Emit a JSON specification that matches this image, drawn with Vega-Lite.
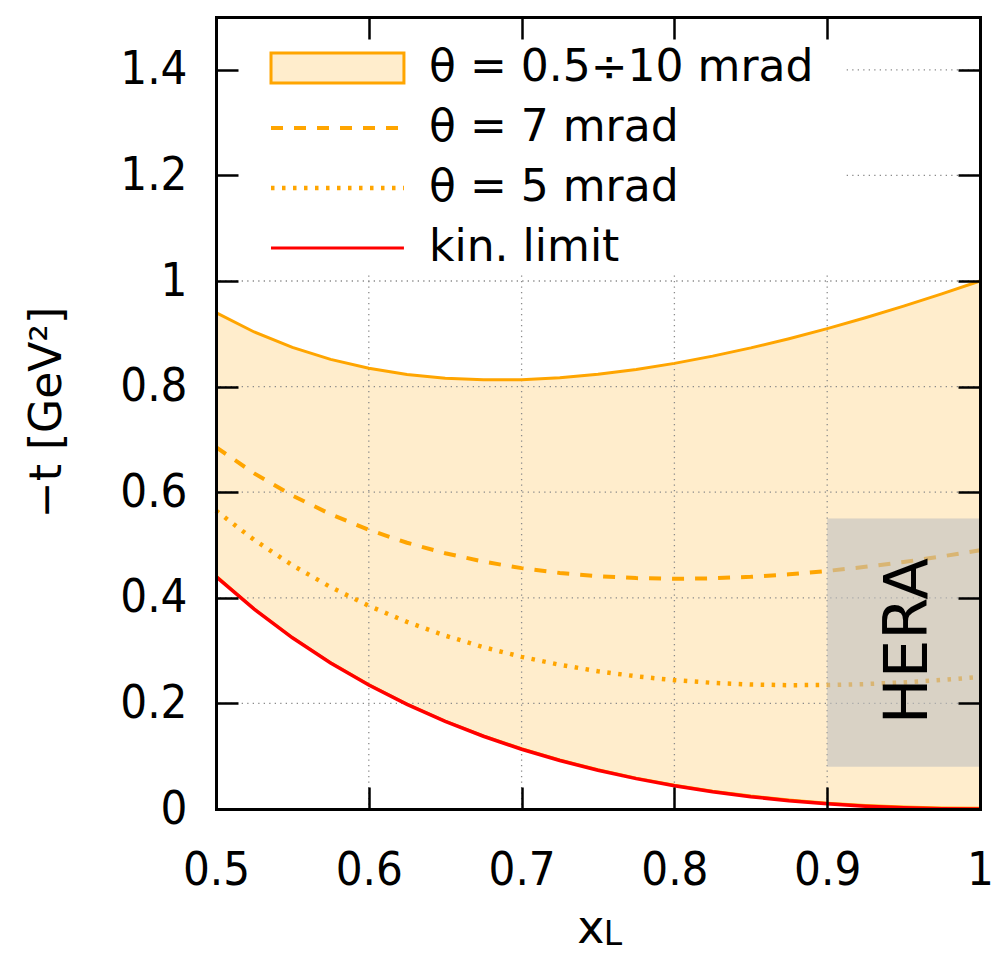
{
  "$schema": "https://vega.github.io/schema/vega-lite/v6.json",
  "width": 764,
  "height": 792,
  "autosize": "none",
  "padding": {"left": 216, "top": 17, "right": 25, "bottom": 144},
  "background": "white",
  "config": {"view": {"stroke": null}, "font": "DejaVu Sans"},
  "datasets": {
    "curves": [
      {"x": 0.5, "lo": 0.4427, "hi": 0.9402, "t7": 0.6852, "t5": 0.5652, "kin": 0.4402},
      {"x": 0.525, "lo": 0.3797, "hi": 0.9034, "t7": 0.6356, "t5": 0.5096, "kin": 0.3784},
      {"x": 0.55, "lo": 0.3255, "hi": 0.8742, "t7": 0.5937, "t5": 0.4617, "kin": 0.3242},
      {"x": 0.575, "lo": 0.278, "hi": 0.8516, "t7": 0.5583, "t5": 0.4203, "kin": 0.2766},
      {"x": 0.6, "lo": 0.2363, "hi": 0.8348, "t7": 0.5288, "t5": 0.3848, "kin": 0.2348},
      {"x": 0.625, "lo": 0.1997, "hi": 0.8231, "t7": 0.5043, "t5": 0.3543, "kin": 0.1981},
      {"x": 0.65, "lo": 0.1675, "hi": 0.8159, "t7": 0.4844, "t5": 0.3284, "kin": 0.1659},
      {"x": 0.675, "lo": 0.1395, "hi": 0.8128, "t7": 0.4685, "t5": 0.3065, "kin": 0.1378},
      {"x": 0.7, "lo": 0.115, "hi": 0.8132, "t7": 0.4562, "t5": 0.2882, "kin": 0.1132},
      {"x": 0.725, "lo": 0.0937, "hi": 0.8168, "t7": 0.4471, "t5": 0.2731, "kin": 0.0918},
      {"x": 0.75, "lo": 0.0752, "hi": 0.8234, "t7": 0.4409, "t5": 0.2609, "kin": 0.0734},
      {"x": 0.775, "lo": 0.0594, "hi": 0.8325, "t7": 0.4373, "t5": 0.2513, "kin": 0.0575},
      {"x": 0.8, "lo": 0.046, "hi": 0.844, "t7": 0.436, "t5": 0.244, "kin": 0.044},
      {"x": 0.825, "lo": 0.0347, "hi": 0.8577, "t7": 0.4369, "t5": 0.2389, "kin": 0.0327},
      {"x": 0.85, "lo": 0.0254, "hi": 0.8733, "t7": 0.4398, "t5": 0.2358, "kin": 0.0233},
      {"x": 0.875, "lo": 0.0179, "hi": 0.8907, "t7": 0.4445, "t5": 0.2345, "kin": 0.0157},
      {"x": 0.9, "lo": 0.012, "hi": 0.9098, "t7": 0.4508, "t5": 0.2348, "kin": 0.0098},
      {"x": 0.925, "lo": 0.0077, "hi": 0.9304, "t7": 0.4586, "t5": 0.2366, "kin": 0.0054},
      {"x": 0.95, "lo": 0.0047, "hi": 0.9523, "t7": 0.4678, "t5": 0.2398, "kin": 0.0023},
      {"x": 0.975, "lo": 0.003, "hi": 0.9756, "t7": 0.4783, "t5": 0.2443, "kin": 0.0006},
      {"x": 1.0, "lo": 0.0025, "hi": 1.0, "t7": 0.49, "t5": 0.25, "kin": 0.0}
    ],
    "gridY": [{"v": 0.2}, {"v": 0.4}, {"v": 0.6}, {"v": 0.8}, {"v": 1.0}, {"v": 1.2}, {"v": 1.4}],
    "gridX": [{"v": 0.6}, {"v": 0.7}, {"v": 0.8}, {"v": 0.9}],
    "keyBox": [{"x1": 0.5, "x2": 0.911, "y1": 1.012, "y2": 1.5}],
    "keySwatch": [{"x1": 0.536, "x2": 0.623, "y1": 1.375, "y2": 1.4318}],
    "keyLines": [
      {"k": "t7", "x1": 0.536, "x2": 0.623, "y": 1.2898},
      {"k": "t5", "x1": 0.536, "x2": 0.623, "y": 1.1761},
      {"k": "kin", "x1": 0.536, "x2": 0.623, "y": 1.0625}
    ],
    "keyText": [
      {"x": 0.6394, "y": 1.4034, "t": "θ = 0.5÷10 mrad"},
      {"x": 0.6394, "y": 1.2898, "t": "θ = 7 mrad"},
      {"x": 0.6394, "y": 1.1761, "t": "θ = 5 mrad"},
      {"x": 0.6394, "y": 1.0625, "t": "kin. limit"}
    ],
    "hera": [{"x1": 0.9, "x2": 1.0, "y1": 0.08, "y2": 0.55, "xc": 0.9535, "yc": 0.318, "t": "HERA"}],
    "xtitle": [
      {"x": 0.7454, "y": -0.2538, "t": "x", "s": "main"},
      {"x": 0.7537, "y": -0.2585, "t": "L", "s": "sub"}
    ]
  },
  "resolve": {"axis": {"x": "independent", "y": "independent"}},
  "layer": [
    {
      "data": {"name": "curves"},
      "mark": {"type": "area", "fill": "#ffedcc", "stroke": null},
      "encoding": {
        "x": {"field": "x", "type": "quantitative", "scale": {"domain": [0.5, 1], "nice": false, "zero": false},
          "axis": {"orient": "bottom", "values": [0.5, 0.6, 0.7, 0.8, 0.9, 1], "format": "~g", "title": null, "grid": false,
            "tickSize": -22, "tickWidth": 2.5, "tickColor": "black", "domainColor": "black", "domainWidth": 3, "domainCap": "square",
            "labelFont": "DejaVu Sans Condensed, DejaVu Sans", "labelFontSize": 47, "labelColor": "black", "labelPadding": 60,
            "labelFlush": false, "labelOverlap": false, "labelBound": false, "zindex": 1}},
        "y": {"field": "lo", "type": "quantitative", "scale": {"domain": [0, 1.5], "nice": false, "zero": false},
          "axis": {"orient": "left", "values": [0, 0.2, 0.4, 0.6, 0.8, 1, 1.2, 1.4], "format": "~g", "grid": false,
            "title": "−t [GeV²]", "titleFont": "DejaVu Sans", "titleFontSize": 44, "titleFontWeight": "normal", "titleColor": "black",
            "titleX": -169, "titleY": 395, "titleAngle": -90, "titleAlign": "center", "titleBaseline": "middle",
            "tickSize": -22, "tickWidth": 2.5, "tickColor": "black", "domainColor": "black", "domainWidth": 3, "domainCap": "square",
            "labelFont": "DejaVu Sans Condensed, DejaVu Sans", "labelFontSize": 47, "labelColor": "black", "labelPadding": 51,
            "labelFlush": false, "labelOverlap": false, "labelBound": false, "zindex": 1}},
        "y2": {"field": "hi"}
      }
    },
    {
      "data": {"name": "gridY"},
      "mark": {"type": "rule", "color": "#8a8a8a", "strokeWidth": 1.3, "strokeDash": [1.3, 4.2]},
      "encoding": {"y": {"field": "v", "type": "quantitative", "axis": null}}
    },
    {
      "data": {"name": "gridX"},
      "mark": {"type": "rule", "color": "#8a8a8a", "strokeWidth": 1.3, "strokeDash": [1.3, 4.2]},
      "encoding": {"x": {"field": "v", "type": "quantitative", "axis": null}}
    },
    {
      "data": {"name": "curves"},
      "mark": {"type": "line", "color": "#ffa500", "strokeWidth": 3},
      "encoding": {
        "x": {"field": "x", "type": "quantitative",
          "axis": {"orient": "top", "values": [0.5, 0.6, 0.7, 0.8, 0.9, 1], "labels": false, "title": null, "grid": false,
            "tickSize": -22, "tickWidth": 2.5, "tickColor": "black", "domainColor": "black", "domainWidth": 3, "domainCap": "square", "zindex": 1}},
        "y": {"field": "hi", "type": "quantitative",
          "axis": {"orient": "right", "values": [0, 0.2, 0.4, 0.6, 0.8, 1, 1.2, 1.4], "labels": false, "title": null, "grid": false,
            "tickSize": -22, "tickWidth": 2.5, "tickColor": "black", "domainColor": "black", "domainWidth": 3, "domainCap": "square", "zindex": 1}}
      }
    },
    {
      "data": {"name": "curves"},
      "mark": {"type": "line", "color": "#ffa500", "strokeWidth": 2},
      "encoding": {"x": {"field": "x", "type": "quantitative", "axis": null}, "y": {"field": "lo", "type": "quantitative", "axis": null}}
    },
    {
      "data": {"name": "curves"},
      "mark": {"type": "line", "color": "#ffa500", "strokeWidth": 4, "strokeDash": [12, 11]},
      "encoding": {"x": {"field": "x", "type": "quantitative", "axis": null}, "y": {"field": "t7", "type": "quantitative", "axis": null}}
    },
    {
      "data": {"name": "curves"},
      "mark": {"type": "line", "color": "#ffa500", "strokeWidth": 4.5, "strokeDash": [3.5, 7.5]},
      "encoding": {"x": {"field": "x", "type": "quantitative", "axis": null}, "y": {"field": "t5", "type": "quantitative", "axis": null}}
    },
    {
      "data": {"name": "curves"},
      "mark": {"type": "line", "color": "#ff0000", "strokeWidth": 3.5},
      "encoding": {"x": {"field": "x", "type": "quantitative", "axis": null}, "y": {"field": "kin", "type": "quantitative", "axis": null}}
    },
    {
      "data": {"name": "keyBox"},
      "mark": {"type": "rect", "fill": "white", "stroke": null},
      "encoding": {
        "x": {"field": "x1", "type": "quantitative", "axis": null}, "x2": {"field": "x2"},
        "y": {"field": "y1", "type": "quantitative", "axis": null}, "y2": {"field": "y2"}
      }
    },
    {
      "data": {"name": "keySwatch"},
      "mark": {"type": "rect", "fill": "#ffedcc", "stroke": "#ffa500", "strokeWidth": 3},
      "encoding": {
        "x": {"field": "x1", "type": "quantitative", "axis": null}, "x2": {"field": "x2"},
        "y": {"field": "y1", "type": "quantitative", "axis": null}, "y2": {"field": "y2"}
      }
    },
    {
      "data": {"name": "keyLines"},
      "transform": [{"filter": "datum.k === 't7'"}],
      "mark": {"type": "rule", "color": "#ffa500", "strokeWidth": 4, "strokeDash": [12, 11]},
      "encoding": {"x": {"field": "x1", "type": "quantitative", "axis": null}, "x2": {"field": "x2"}, "y": {"field": "y", "type": "quantitative", "axis": null}}
    },
    {
      "data": {"name": "keyLines"},
      "transform": [{"filter": "datum.k === 't5'"}],
      "mark": {"type": "rule", "color": "#ffa500", "strokeWidth": 4.5, "strokeDash": [3.5, 7.5]},
      "encoding": {"x": {"field": "x1", "type": "quantitative", "axis": null}, "x2": {"field": "x2"}, "y": {"field": "y", "type": "quantitative", "axis": null}}
    },
    {
      "data": {"name": "keyLines"},
      "transform": [{"filter": "datum.k === 'kin'"}],
      "mark": {"type": "rule", "color": "#ff0000", "strokeWidth": 3},
      "encoding": {"x": {"field": "x1", "type": "quantitative", "axis": null}, "x2": {"field": "x2"}, "y": {"field": "y", "type": "quantitative", "axis": null}}
    },
    {
      "data": {"name": "keyText"},
      "mark": {"type": "text", "align": "left", "baseline": "middle", "font": "DejaVu Sans", "fontSize": 44, "color": "black"},
      "encoding": {"x": {"field": "x", "type": "quantitative", "axis": null}, "y": {"field": "y", "type": "quantitative", "axis": null}, "text": {"field": "t"}}
    },
    {
      "data": {"name": "hera"},
      "mark": {"type": "rect", "fill": "#c0c0c0", "fillOpacity": 0.6, "stroke": null},
      "encoding": {
        "x": {"field": "x1", "type": "quantitative", "axis": null}, "x2": {"field": "x2"},
        "y": {"field": "y1", "type": "quantitative", "axis": null}, "y2": {"field": "y2"}
      }
    },
    {
      "data": {"name": "hera"},
      "mark": {"type": "text", "angle": 270, "align": "center", "baseline": "middle", "font": "DejaVu Sans", "fontSize": 61, "color": "black"},
      "encoding": {"x": {"field": "xc", "type": "quantitative", "axis": null}, "y": {"field": "yc", "type": "quantitative", "axis": null}, "text": {"field": "t"}}
    },
    {
      "data": {"name": "xtitle"},
      "transform": [{"filter": "datum.s === 'main'"}],
      "mark": {"type": "text", "align": "center", "baseline": "alphabetic", "font": "DejaVu Sans", "fontSize": 46, "color": "black"},
      "encoding": {"x": {"field": "x", "type": "quantitative", "axis": null}, "y": {"field": "y", "type": "quantitative", "axis": null}, "text": {"field": "t"}}
    },
    {
      "data": {"name": "xtitle"},
      "transform": [{"filter": "datum.s === 'sub'"}],
      "mark": {"type": "text", "align": "left", "baseline": "alphabetic", "font": "DejaVu Sans", "fontSize": 33, "color": "black"},
      "encoding": {"x": {"field": "x", "type": "quantitative", "axis": null}, "y": {"field": "y", "type": "quantitative", "axis": null}, "text": {"field": "t"}}
    }
  ]
}
